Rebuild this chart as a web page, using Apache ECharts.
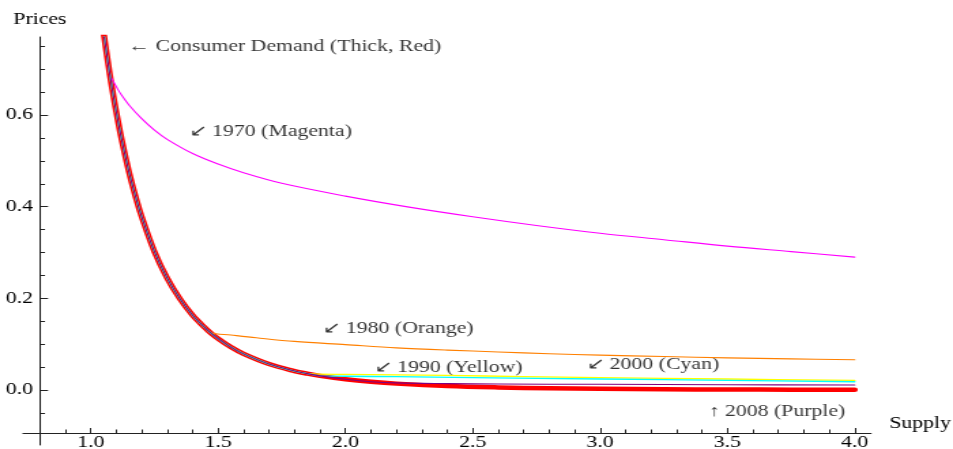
<!DOCTYPE html>
<html>
<head>
<meta charset="utf-8">
<script src="https://cdn.jsdelivr.net/npm/echarts@6/dist/echarts.min.js"></script>
<style>
  html, body { margin: 0; padding: 0; background: #fff; overflow: hidden; width: 953px; height: 449px; }
  /* the plot is laid out at 700px wide and widened to the 953px frame */
  #chart { width: 700px; height: 449px; transform: scaleX(1.36143); transform-origin: 0 0; }
</style>
</head>
<body>
<div id="chart"></div>
<script>
// Consumer demand curve (price against supply)
const demandX = [1.04, 1.05, 1.06, 1.075, 1.09, 1.10, 1.12, 1.15, 1.18, 1.20, 1.25, 1.30, 1.35, 1.40, 1.45, 1.47, 1.50, 1.55, 1.60, 1.70, 1.80, 1.85, 1.90, 2.00, 2.10, 2.20, 2.40, 2.60, 2.80, 3.00, 3.25, 3.50, 3.75, 4.00];
const demandY = [0.824, 0.782, 0.743, 0.688, 0.638, 0.607, 0.550, 0.476, 0.414, 0.378, 0.302, 0.244, 0.199, 0.163, 0.135, 0.125, 0.112, 0.0936, 0.0788, 0.0566, 0.0414, 0.0357, 0.0309, 0.0234, 0.0179, 0.0139, 0.0086, 0.0056, 0.0037, 0.0026, 0.0017, 0.0011, 0.0008, 0.0005];

// Supply curves by year, each leaving the demand curve at its first point
const supply1970X = [1.075, 1.09, 1.10, 1.12, 1.15, 1.20, 1.25, 1.30, 1.40, 1.50, 1.60, 1.75, 2.00, 2.25, 2.50, 2.75, 3.00, 3.25, 3.50, 3.75, 4.00];
const supply1970Y = [0.688, 0.672, 0.662, 0.644, 0.622, 0.592, 0.567, 0.547, 0.516, 0.493, 0.474, 0.451, 0.423, 0.399, 0.378, 0.359, 0.342, 0.328, 0.314, 0.302, 0.290];

const supply1980X = [1.47, 1.55, 1.65, 1.80, 2.00, 2.20, 2.40, 2.60, 2.80, 3.00, 3.25, 3.50, 3.75, 4.00];
const supply1980Y = [0.125, 0.120, 0.114, 0.106, 0.099, 0.092, 0.087, 0.083, 0.079, 0.076, 0.073, 0.070, 0.068, 0.066];

const supply1990X = [1.85, 2.00, 2.20, 2.40, 2.70, 3.00, 3.50, 4.00];
const supply1990Y = [0.0357, 0.034, 0.033, 0.032, 0.029, 0.027, 0.024, 0.021];

const supply2000X = [1.90, 2.00, 2.20, 2.50, 3.00, 3.50, 4.00];
const supply2000Y = [0.0309, 0.030, 0.029, 0.027, 0.024, 0.021, 0.018];

const supply2008X = [2.10, 2.20, 2.40, 2.60, 3.00, 3.50, 4.00];
const supply2008Y = [0.0179, 0.0155, 0.014, 0.013, 0.0125, 0.0115, 0.011];

// Axis ticks
const xMajorTicks = [1.0, 1.5, 2.0, 2.5, 3.0, 3.5, 4.0];
const xMinorTicks = [0.9, 1.1, 1.2, 1.3, 1.4, 1.6, 1.7, 1.8, 1.9, 2.1, 2.2, 2.3, 2.4, 2.6, 2.7, 2.8, 2.9, 3.1, 3.2, 3.3, 3.4, 3.6, 3.7, 3.8, 3.9];
const yMajorTicks = [0.0, 0.2, 0.4, 0.6];
const yMinorTicks = [-0.05, 0.05, 0.1, 0.15, 0.25, 0.3, 0.35, 0.45, 0.5, 0.55, 0.65, 0.7, 0.75];

// Callout texts and where they sit (data units, left edge / middle)
const noteText = ['← Consumer Demand (Thick, Red)', '↙ 1970 (Magenta)', '↙ 1980 (Orange)', '↙ 1990 (Yellow)', '↙ 2000 (Cyan)', '↑ 2008 (Purple)'];
const noteX = [1.148, 1.386, 1.911, 2.112, 2.947, 3.426];
const noteY = [0.7495, 0.564, 0.133, 0.0487, 0.0545, -0.0467];

const FONT = "'Liberation Serif', 'Times New Roman', serif";
const X_MIN = 0.734, X_MAX = 4.064, Y_MIN = -0.12, Y_MAX = 0.7702;

function pairs(xs, ys) { return xs.map((x, i) => [x, ys[i]]); }
const demandPts = pairs(demandX, demandY);
function branch(xs, ys) {
  const start = xs[0];
  return demandPts.filter(p => p[0] < start).concat(pairs(xs, ys));
}

function curve(name, data, color, width) {
  return {
    name, type: 'line', data, xAxisIndex: 0, yAxisIndex: 0,
    showSymbol: false, symbol: 'none', smooth: 0.35,
    lineStyle: { color, width, cap: 'round', join: 'round' }, silent: true, clip: true
  };
}

const axisLineStyle = { color: '#222', width: 1 };

const chart = echarts.init(document.getElementById('chart'), null, { renderer: 'canvas' });
chart.setOption({
  animation: false,
  backgroundColor: '#fff',
  grid: { left: 16.9, top: 37, width: 622.9, height: 408, containLabel: false, outerBoundsMode: 'none' },
  xAxis: [
    {
      type: 'value', min: X_MIN, max: X_MAX, position: 'bottom', offset: -12,
      axisLine: { show: true, onZero: false, lineStyle: axisLineStyle },
      axisTick: { show: true, inside: true, length: 5, customValues: xMajorTicks, lineStyle: axisLineStyle },
      axisLabel: { show: true, customValues: xMajorTicks, margin: 2, color: '#000', fontFamily: FONT, fontSize: 16,
                   formatter: v => v.toFixed(1) },
      splitLine: { show: false },
      name: 'Supply', nameLocation: 'end', nameGap: 13.4,
      nameTextStyle: { color: '#000', fontFamily: FONT, fontSize: 16, verticalAlign: 'bottom', padding: [0, 0, 1, 0] }
    },
    {
      type: 'value', min: X_MIN, max: X_MAX, position: 'bottom', offset: -12,
      axisLine: { show: false, onZero: false },
      axisTick: { show: true, inside: true, length: 3.5, customValues: xMinorTicks, lineStyle: axisLineStyle },
      axisLabel: { show: false },
      splitLine: { show: false }
    }
  ],
  yAxis: [
    {
      type: 'value', min: Y_MIN, max: Y_MAX, position: 'left', offset: -12.4,
      axisLine: { show: true, onZero: false, lineStyle: axisLineStyle },
      axisTick: { show: true, inside: true, length: 6, customValues: yMajorTicks, lineStyle: axisLineStyle },
      axisLabel: { show: true, customValues: yMajorTicks, margin: 5, color: '#000', fontFamily: FONT, fontSize: 16,
                   formatter: v => v.toFixed(1) },
      splitLine: { show: false },
      name: 'Prices', nameLocation: 'end', nameGap: 9,
      nameTextStyle: { color: '#000', fontFamily: FONT, fontSize: 16, align: 'center' }
    },
    {
      type: 'value', min: Y_MIN, max: Y_MAX, position: 'left', offset: -12.4,
      axisLine: { show: false, onZero: false },
      axisTick: { show: true, inside: true, length: 3.7, customValues: yMinorTicks, lineStyle: axisLineStyle },
      axisLabel: { show: false },
      splitLine: { show: false }
    }
  ],
  series: [
    curve('Consumer Demand', demandPts, '#ff0000', 4.5),
    curve('1970', branch(supply1970X, supply1970Y), '#ff00ff', 1.1),
    curve('1980', branch(supply1980X, supply1980Y), '#ff8000', 1.1),
    curve('1990', branch(supply1990X, supply1990Y), '#ffff00', 1.3),
    curve('2000', branch(supply2000X, supply2000Y), '#00ffff', 1.3),
    curve('2008', branch(supply2008X, supply2008Y), '#800080', 1.1),
    {
      name: 'notes', type: 'scatter', xAxisIndex: 0, yAxisIndex: 0, silent: true,
      symbolSize: 0,
      data: noteText.map((t, i) => [noteX[i], noteY[i], t]),
      label: {
        show: true, position: 'right', distance: 0, color: '#000',
        fontFamily: FONT, fontSize: 16,
        formatter: p => p.data[2]
      }
    }
  ]
});
</script>
</body>
</html>
